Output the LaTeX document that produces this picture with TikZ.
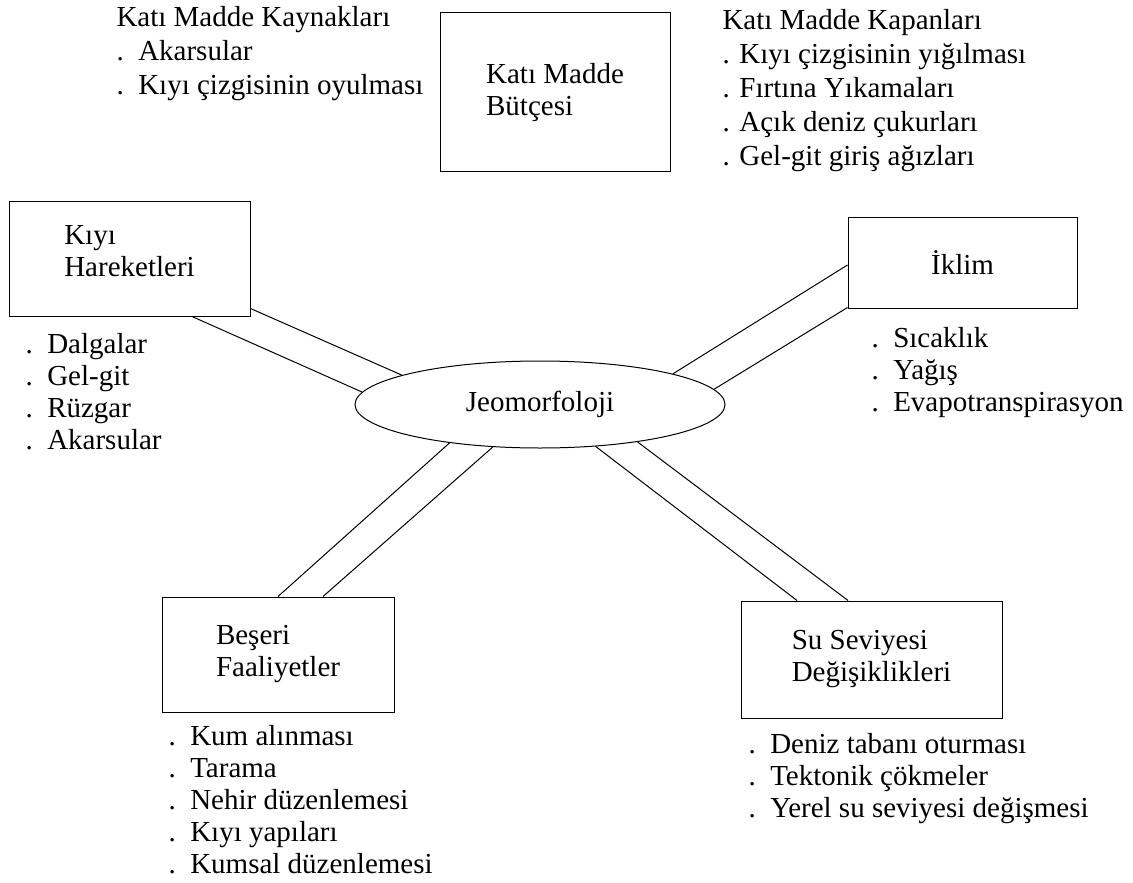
\documentclass[tikz,border=0pt]{standalone}
\usepackage{fontspec}
\setmainfont{Liberation Serif}
\usetikzlibrary{shapes.geometric, calc}

\begin{document}
\begin{tikzpicture}[x=0.5pt, y=-0.5pt, line width=0.5pt,
  every node/.style={font=\fontsize{14.5}{16}\selectfont},
  kutu/.style={draw, rectangle, align=left, inner sep=0pt},
  liste/.style={align=left, anchor=base west, inner sep=0pt}]
  \useasboundingbox (0,0) rectangle (1133,882);
  \node[draw, ellipse, minimum width=185pt, minimum height=43.5pt, inner sep=0pt] (jeo) at (540,404.5) {Jeomorfoloji};
  \node[kutu, minimum width=115pt, minimum height=79.5pt] (butce) at (555,92.5) {Katı Madde\\Bütçesi};
  \node[kutu, minimum width=120.5pt, minimum height=57pt] (kiyi) at (129.5,259) {Kıyı\\Hareketleri\\[-8pt]};
  \node[kutu, minimum width=114.5pt, minimum height=45.5pt] (iklim) at (962.5,262.5) {İklim};
  \node[kutu, minimum width=116pt, minimum height=57.5pt] (beseri) at (278,654.5) {Beşeri\\Faaliyetler};
  \node[kutu, minimum width=130.5pt, minimum height=58.5pt] (su) at (871.5,659.5) {Su Seviyesi\\Değişiklikleri};
  % cift cizgili baglantilar
  \draw ($(butce.south)+(-24,0)$) -- ($(butce.south)+(-24,0)$ |- jeo.north);
  \draw ($(butce.south)+(8,0)$) -- ($(butce.south)+(8,0)$ |- jeo.north);
  \draw ($(kiyi.south east)+(0,-8)$) -- (jeo.168.7);
  \draw ($(kiyi.south)+(62.5,0)$) -- (jeo.176.4);
  \draw ($(iklim.west)+(0,2.5)$) -- (jeo.13.3);
  \draw ($(iklim.south west)+(0,-1)$) -- (jeo.5.4);
  \draw (beseri.north) -- (jeo.203.6);
  \draw ($(beseri.north)+(45,0)$) -- (jeo.222.8);
  \draw ($(su.north)+(-74.5,0)$) -- (jeo.323.3);
  \draw ($(su.north)+(-23.5,0)$) -- (jeo.339.4);
  % listeler (son satirin tabanina gore)
  \node[liste] (kayn) at (116,95) {Katı Madde Kaynakları\\[1pt].\ \ Akarsular\\[1pt].\ \ Kıyı çizgisinin oyulması};
  \node[liste] (kapan) at (722,166) {Katı Madde Kapanları\\[1pt]. Kıyı çizgisinin yığılması\\[1pt]. Fırtına Yıkamaları\\[1pt]. Açık deniz çukurları\\[1pt]. Gel-git giriş ağızları};
  \node[liste] (kiyil) at (25,449) {.\ \ Dalgalar\\.\ \ Gel-git\\.\ \ Rüzgar\\.\ \ Akarsular};
  \node[liste] (ikliml) at (871,411) {.\ \ Sıcaklık\\.\ \ Yağış\\.\ \ Evapotranspirasyon};
  \node[liste] (beseril) at (168,873) {.\ \ Kum alınması\\.\ \ Tarama\\.\ \ Nehir düzenlemesi\\.\ \ Kıyı yapıları\\.\ \ Kumsal düzenlemesi};
  \node[liste] (sul) at (748,817) {.\ \ Deniz tabanı oturması\\.\ \ Tektonik çökmeler\\.\ \ Yerel su seviyesi değişmesi};
\end{tikzpicture}
\end{document}
